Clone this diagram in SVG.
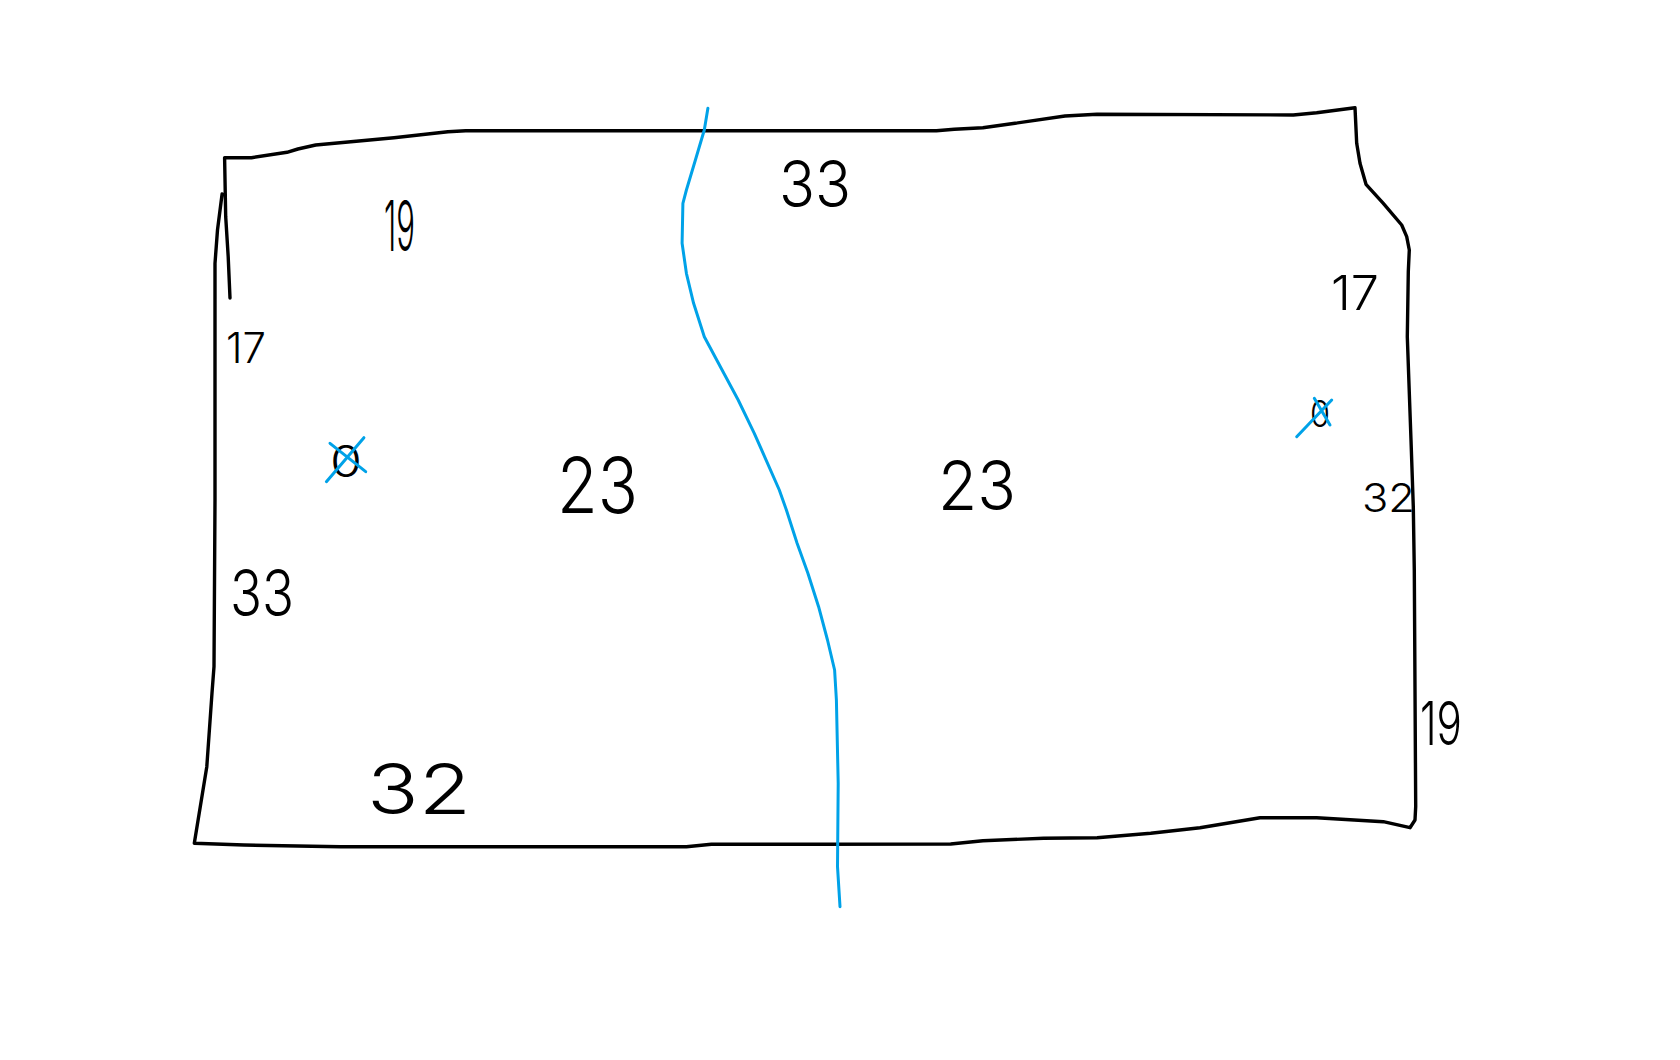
<svg xmlns="http://www.w3.org/2000/svg" width="1680" height="1060" viewBox="0 0 1680 1060">
  <style>
    .ink { fill: none; stroke: #000; stroke-width: 3.4; stroke-linecap: round; stroke-linejoin: round; }
    .blue { fill: none; stroke: #00a2e8; stroke-width: 3; stroke-linecap: round; stroke-linejoin: round; }
    .num { font-family: Inter, "Liberation Sans", sans-serif; font-weight: 300; fill: #000; }
  </style>
  <rect x="0" y="0" width="1680" height="1060" fill="#fff"/>
  <g id="outline">
    <path class="ink" d="M230,298 L228.2,256.7 L225.7,216.7 L224.6,157.7 L251.4,157.7 L287,152.3 L297.9,149 L315.7,145 L394,137.7 L447.9,131.7 L465.7,130.7 L936.4,130.7 L954.3,129.3 L982.9,127.7 L1015,123.3 L1065,116 L1097,114.3 L1293.3,115 L1316.7,112.7 L1355,107.7 L1356.7,143.3 L1360,163.3 L1366,184.3 L1383.3,203.3 L1401.7,225 L1406.7,236.7 L1409.3,250 L1408.3,271.7 L1407.3,336.7 L1411,440 L1413.3,506.7 L1414.3,570 L1415.7,806.7 L1415,820 L1410,827.7 L1383.3,821.7 L1316.7,817.7 L1260,817.7 L1200,827.7 L1150.7,833.3 L1097.1,837.7 L1043.6,838.3 L982.9,840.7 L950.7,844 L815,844.3 L711.4,844.3 L686.4,846.7 L340.7,846.7 L244,845 L194.3,843.3 L206.8,766.7 L212,693 L214,666.7 L215,500 L215,373.3 L215,263.3 L217.5,230 L222.1,194"/>
  </g>
  <g id="river">
    <path class="blue" d="M707.9,108.3 L704.3,130 L695.4,160 L686.4,190 L682.9,203.3 L682.1,243.3 L686.4,273.3 L693.6,303.3 L704.3,336.7 L722.1,370 L738.2,400 L754.3,433.3 L779.3,490 L786.4,510 L797.1,543.3 L807.9,573.3 L818.6,606.7 L827.5,640 L834.6,670 L836.4,700 L838.2,783.3 L837.5,866.7 L840,906.7"/>
  </g>
  <g id="labels">
    <text class="num" x="384" y="251" font-size="70" textLength="31" lengthAdjust="spacingAndGlyphs">19</text>
    <text class="num" x="226" y="363" font-size="42" textLength="40" lengthAdjust="spacingAndGlyphs">17</text>
    <text class="num" x="557" y="513" font-size="77" textLength="81" lengthAdjust="spacingAndGlyphs">23</text>
    <text class="num" x="230" y="616" font-size="64" textLength="64" lengthAdjust="spacingAndGlyphs">33</text>
    <text class="num" x="367" y="814" font-size="70" textLength="104" lengthAdjust="spacingAndGlyphs">32</text>
    <text class="num" x="779" y="207" font-size="65" textLength="72" lengthAdjust="spacingAndGlyphs">33</text>
    <text class="num" x="938" y="510" font-size="69" textLength="78" lengthAdjust="spacingAndGlyphs">23</text>
    <text class="num" x="1331" y="310" font-size="48" textLength="48" lengthAdjust="spacingAndGlyphs">17</text>
    <text class="num" x="1362" y="512" font-size="39" textLength="53" lengthAdjust="spacingAndGlyphs">32</text>
    <text class="num" x="1420" y="745" font-size="60" textLength="42" lengthAdjust="spacingAndGlyphs">19</text>
  </g>
  <g id="crossed-zero-left">
    <text class="num" x="330" y="477" font-size="44" textLength="32" lengthAdjust="spacingAndGlyphs">0</text>
    <path class="blue" d="M326.4,481.7 L363.9,437.7 M330,443.3 L365.7,471.7"/>
  </g>
  <g id="crossed-zero-right">
    <text class="num" x="1310" y="427" font-size="37" textLength="20" lengthAdjust="spacingAndGlyphs">0</text>
    <path class="blue" d="M1296.7,436.7 L1331.7,400 M1314.3,398.3 L1330,425"/>
  </g>
</svg>
